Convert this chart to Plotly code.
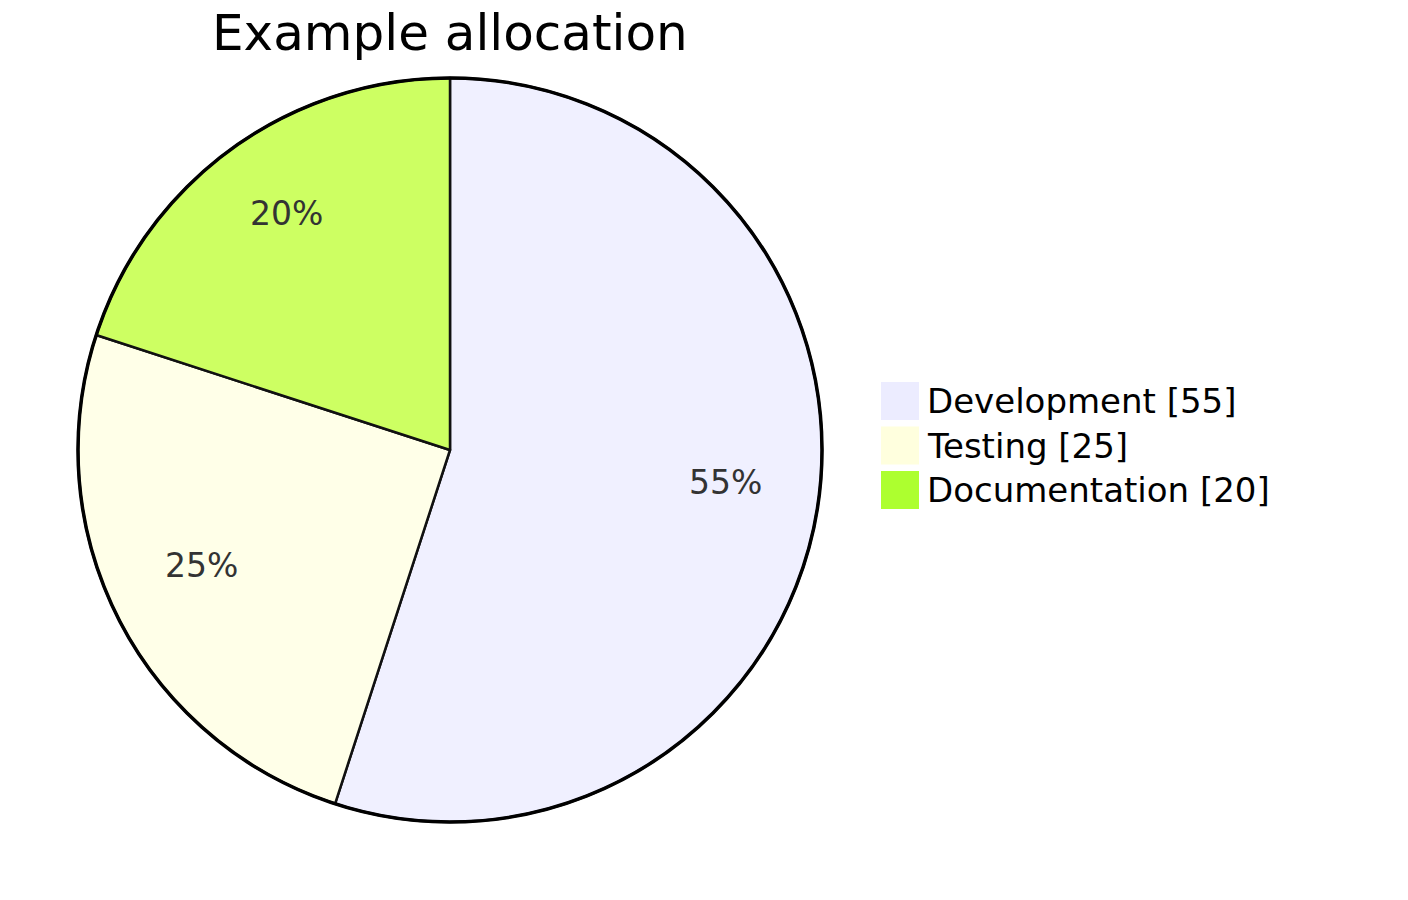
import math
import plotly.graph_objects as go

labels = ["Development", "Testing", "Documentation"]
values = [55, 25, 20]
legend_colors = ["#ECECFF", "#FFFFDE", "#ADFF2F"]
slice_colors = ["#F0F0FF", "#FFFFE8", "#CDFF62"]
title_text = "Example allocation"

W, H = 1408, 900
OFF = 8  # page body margin
FONT = "DejaVu Sans"


def px(x):
    return (x - OFF) / W


def py(y):
    return 1 - (y - OFF) / H


CX, CY, R = 450, 450, 372

fig = go.Figure()
fig.add_trace(go.Pie(
    labels=labels,
    values=values,
    sort=False,
    direction="clockwise",
    rotation=0,
    marker=dict(colors=slice_colors, line=dict(color="#111111", width=2.5)),
    textinfo="none",
    showlegend=False,
    hoverinfo="label+value+percent",
    domain=dict(x=[px(CX - R), px(CX + R)], y=[py(CY + R), py(CY - R)]),
))

shapes = []
annotations = []

# outer rim
shapes.append(dict(type="circle", xref="paper", yref="paper",
                   x0=px(CX - R), x1=px(CX + R), y0=py(CY + R), y1=py(CY - R),
                   line=dict(color="#000000", width=3.5), fillcolor="rgba(0,0,0,0)"))

# percentage labels at 0.75 R of each slice's mid angle
total = sum(values)
cum = 0
for v in values:
    mid = (cum + v / 2) / total * 2 * math.pi
    cum += v
    lx = CX + math.sin(mid) * 0.75 * R
    ly = CY - math.cos(mid) * 0.75 * R - 11
    annotations.append(dict(xref="paper", yref="paper", x=px(lx), y=py(ly),
                            xanchor="center", yanchor="middle", showarrow=False,
                            text=f"{round(v / total * 100)}%",
                            font=dict(family=FONT, size=33, color="#333333")))

# legend drawn as boxes + text, built from the data lists
box = 38
step = 44.5
top0 = 382
for i, (lab, val, col) in enumerate(zip(labels, values, legend_colors)):
    top = top0 + i * step
    shapes.append(dict(type="rect", xref="paper", yref="paper",
                       x0=px(881), x1=px(881 + box),
                       y0=py(top + box), y1=py(top),
                       fillcolor=col, line=dict(width=0)))
    annotations.append(dict(xref="paper", yref="paper", x=px(925), y=py(top + box / 2),
                            xanchor="left", yanchor="middle", showarrow=False,
                            text=f"{lab} [{val}]",
                            font=dict(family=FONT, size=34, color="#000000")))

annotations.append(dict(xref="paper", yref="paper", x=px(450), y=py(33),
                        xanchor="center", yanchor="middle", showarrow=False,
                        text=title_text, font=dict(family=FONT, size=50, color="#000000")))

fig.update_layout(
    width=W, height=H,
    margin=dict(l=0, r=0, t=0, b=0),
    paper_bgcolor="white",
    plot_bgcolor="white",
    shapes=shapes,
    annotations=annotations,
)

fig.write_html("out.html")
